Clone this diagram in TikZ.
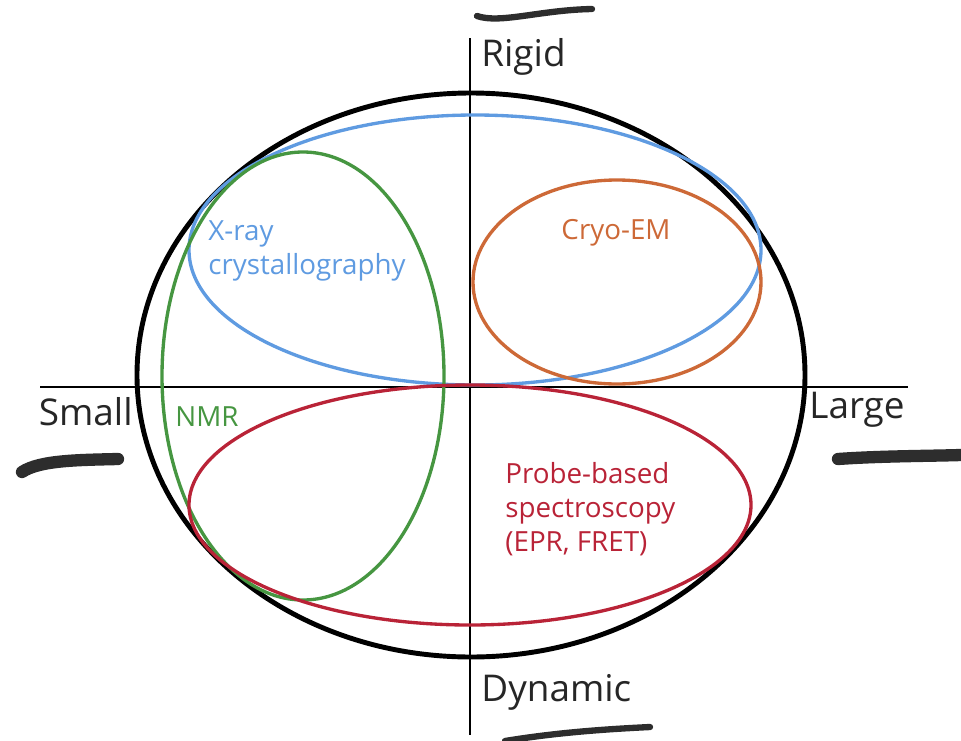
\documentclass[tikz,border=0pt]{standalone}
\usepackage{fontspec}
\setmainfont{Open Sans}
\usepackage{tikz}

\definecolor{xraycol}{RGB}{95,155,225}
\definecolor{nmrcol}{RGB}{70,150,65}
\definecolor{cryocol}{RGB}{205,105,55}
\definecolor{probecol}{RGB}{185,35,55}
\definecolor{penink}{RGB}{45,45,45}

\begin{document}
\begin{tikzpicture}[x=0.02cm,y=-0.02cm]

  %Styles for picture
  \tikzset
  {
  axis/.style={line width=1.7pt, black},
  axislabel/.style={inner sep=0pt, font=\fontsize{21}{25}\selectfont, text=black!85},
  outerring/.style={line width=2.8pt, black},
  method/.style={line width=1.9pt},
  methodlabel/.style={inner sep=0pt, align=left, font=\fontsize{15.8}{19.5}\selectfont},
  pen/.style={penink, line cap=round},
  }

  \useasboundingbox (0,0) rectangle (961,741);

  %Axes
  \coordinate (west) at (40,387);
  \coordinate (east) at (908,387);
  \coordinate (north) at (470,38);
  \coordinate (south) at (470,735);
  \draw[axis] (west) -- (east);
  \draw[axis] (north) -- (south);

  %Axis labels
  \node[axislabel, anchor=west] (rigid) at (481,57) {Rigid};
  \node[axislabel, anchor=east] (small) at (133,412) {Small};
  \node[axislabel, anchor=west] (large) at (809,410) {Large};
  \node[axislabel, anchor=west] (dynamic) at (481,692) {Dynamic};

  %Regions
  \draw[outerring] (471,375) ellipse (334 and 282);
  \draw[method, xraycol] (475,250) ellipse (286 and 135);
  \draw[method, nmrcol] (303,376) ellipse (141 and 224);
  \draw[method, cryocol] (617,282) ellipse (144 and 102);
  \draw[method, probecol] (470,505) ellipse (281 and 120);

  %Region labels
  \node[methodlabel, text=xraycol, anchor=north west] (xray) at (208,220) {X-ray\\crystallography};
  \node[methodlabel, text=cryocol] (cryo) at (616,233) {Cryo-EM};
  \node[methodlabel, text=nmrcol, anchor=west] (nmr) at (175,417) {NMR};
  \node[methodlabel, text=probecol, anchor=north west] (probe) at (505,462) {Probe-based\\spectroscopy\\(EPR, FRET)};

  %Pen strokes
  \draw[pen, line width=3.6pt] (477,16) .. controls (500,24) and (540,10) .. (592,9);
  \draw[pen, line width=7pt] (22,472) .. controls (40,460) and (80,460) .. (118,459);
  \draw[pen, line width=7pt] (838,459) .. controls (880,456) and (930,456) .. (961,455);
  \draw[pen, line width=3.6pt] (505,741) .. controls (560,732) and (610,729) .. (650,727);
\end{tikzpicture}
\end{document}
